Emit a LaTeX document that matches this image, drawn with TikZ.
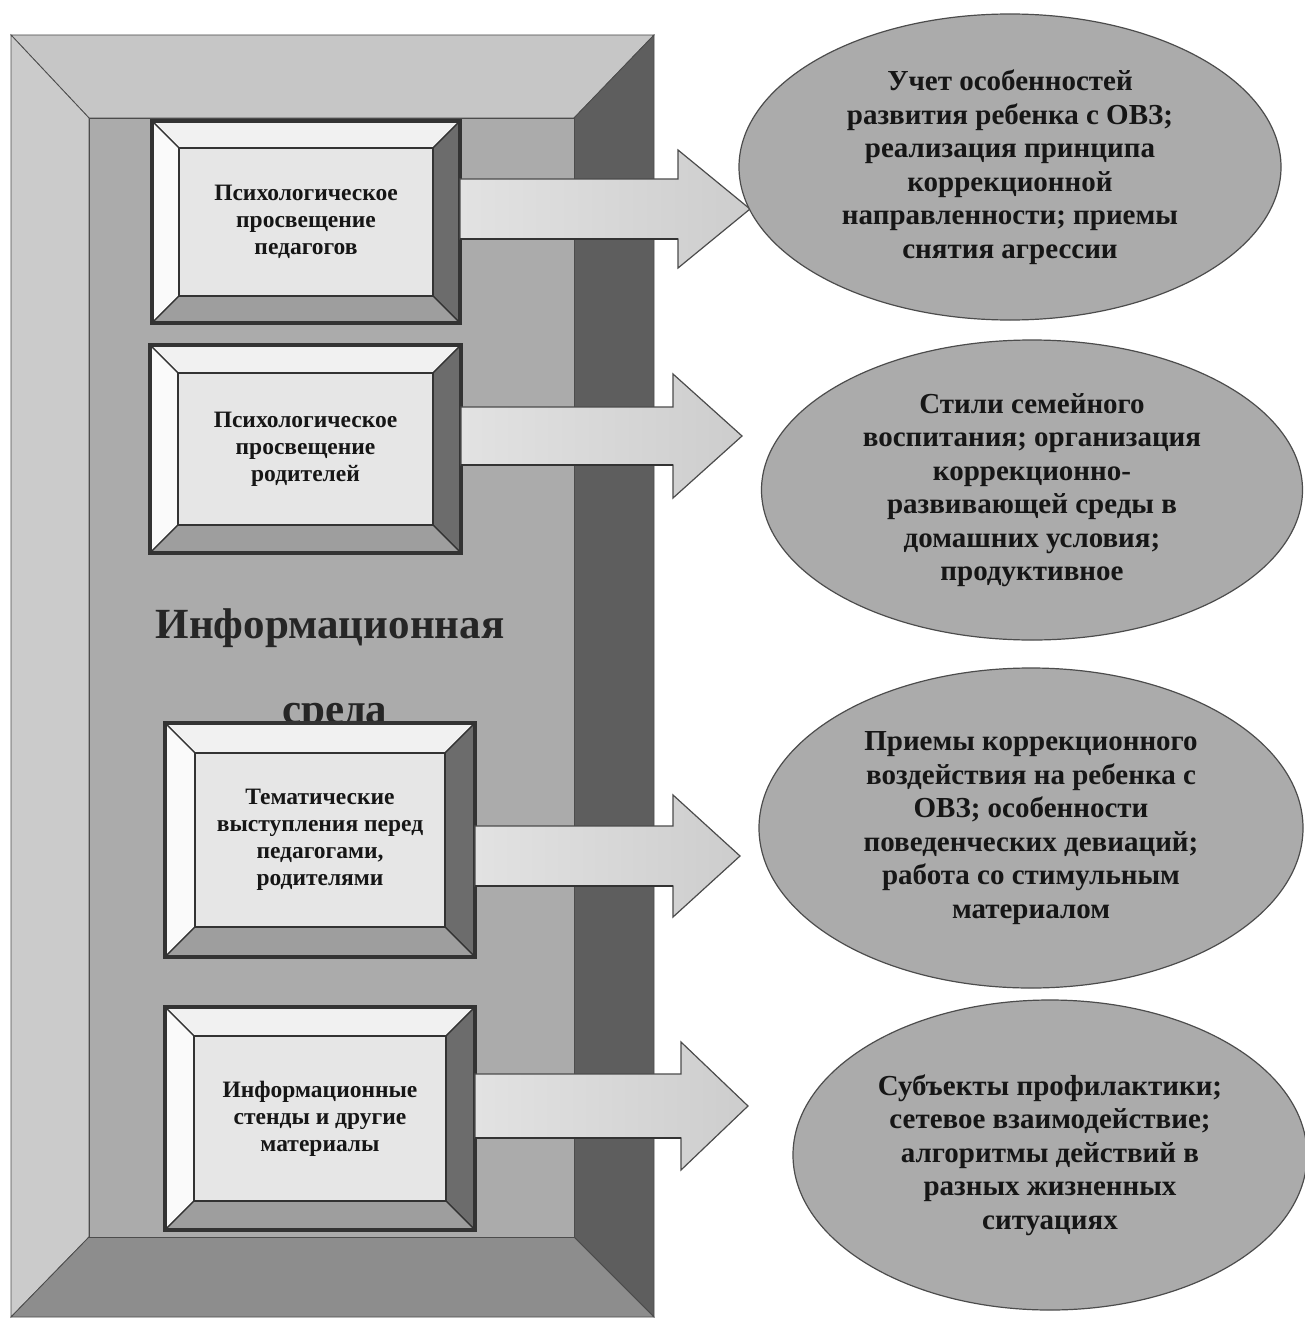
\documentclass[tikz,border=0pt]{standalone}
\usepackage{fontspec}
\setmainfont{Liberation Serif}
\usetikzlibrary{shapes.geometric,calc}
\definecolor{frtop}{HTML}{C6C6C6}
\definecolor{frleft}{HTML}{CBCBCB}
\definecolor{frright}{HTML}{5E5E5E}
\definecolor{frbottom}{HTML}{8D8D8D}
\definecolor{frpanel}{HTML}{ABABAB}
\definecolor{bvtop}{HTML}{F1F1F1}
\definecolor{bvleft}{HTML}{FAFAFA}
\definecolor{bvright}{HTML}{6C6C6C}
\definecolor{bvbottom}{HTML}{9E9E9E}
\definecolor{facec}{HTML}{E6E6E6}
\definecolor{ovalc}{HTML}{ABABAB}
\definecolor{arrl}{HTML}{E2E2E2}
\definecolor{arrr}{HTML}{CDCDCD}
\definecolor{inkc}{HTML}{161616}
\tikzset{
  frameedge/.style={draw=black!70, line width=0.8pt},
  bvline/.style={draw=black!80, line width=1.2pt},
  facebox/.style={rectangle, draw=black!80, line width=2pt, fill=facec, inner sep=0pt, outer sep=0pt,
    align=center, font=\bfseries\fontsize{23.5}{27}\selectfont, text=inkc},
  outerbox/.style={rectangle, draw=black!80, line width=3.5pt, inner sep=0pt, outer sep=0pt},
  oval/.style={ellipse, draw=black!70, line width=1.2pt, fill=ovalc, inner sep=0pt,
    align=center, font=\bfseries\fontsize{29}{33.5}\selectfont, text=inkc},
  arrowst/.style={draw=black!70, line width=1.2pt, left color=arrl, right color=arrr, line join=miter},
  shadowline/.style={draw=black!80, line width=2.6pt},
  titletext/.style={font=\bfseries\fontsize{43}{50}\selectfont, text=black!85, inner sep=0pt, anchor=base},
}
\newcommand\bevelbox[7]{%
  \filldraw[bvline, fill=bvtop] (#2,#3) -- (#4,#3) -- ({#4-#6},{#3+#6}) -- ({#2+#6},{#3+#6}) -- cycle;
  \filldraw[bvline, fill=bvleft] (#2,#3) -- ({#2+#6},{#3+#6}) -- ({#2+#6},{#5-#6}) -- (#2,#5) -- cycle;
  \filldraw[bvline, fill=bvright] (#4,#3) -- (#4,#5) -- ({#4-#6},{#5-#6}) -- ({#4-#6},{#3+#6}) -- cycle;
  \filldraw[bvline, fill=bvbottom] (#2,#5) -- ({#2+#6},{#5-#6}) -- ({#4-#6},{#5-#6}) -- (#4,#5) -- cycle;
  \node[facebox, minimum width={#4-#2-2*#6}, minimum height={#5-#3-2*#6}] (#1) at ({(#2+#4)/2},{(#3+#5)/2}) {#7};
  \node[outerbox, minimum width={#4-#2}, minimum height={#5-#3}] (#1o) at ({(#2+#4)/2},{(#3+#5)/2}) {};
}
\newcommand\blockarrow[5]{%
  \filldraw[arrowst] ($(#1.east |- #2)+(0,-#3)$) -- ($(#2)+(-#4,-#3)$) -- ($(#2)+(-#4,-#5)$) -- (#2)
    -- ($(#2)+(-#4,#5)$) -- ($(#2)+(-#4,#3)$) -- ($(#1.east |- #2)+(0,#3)$) -- cycle;
  \draw[shadowline] ($(#1.east |- #2)+(0,#3)$) -- ($(#2)+(-#4,#3)$);
}
\begin{document}
\begin{tikzpicture}[x=1pt,y=-1pt]
\useasboundingbox (0,0) rectangle (1305,1319);
\fill[white] (0,0) rectangle (1305,1319);
% big bevelled frame
\filldraw[frameedge, fill=frtop] (11,35) -- (654,35) -- (574,118) -- (89,118) -- cycle;
\filldraw[frameedge, fill=frleft] (11,35) -- (89,118) -- (89,1237) -- (11,1317) -- cycle;
\filldraw[frameedge, fill=frright] (654,35) -- (654,1317) -- (574,1237) -- (574,118) -- cycle;
\filldraw[frameedge, fill=frbottom] (11,1317) -- (89,1237) -- (574,1237) -- (654,1317) -- cycle;
\filldraw[frameedge, fill=frpanel] (89,118) rectangle (574,1237);
% title
\node[titletext] (title1) at (330,638) {Информационная};
\node[titletext] (title2) at (335,723) {среда};
% boxes
\bevelbox{b1}{152}{121}{460}{323}{27}{Психологическое\\просвещение\\педагогов}
\bevelbox{b2}{150}{345}{461}{553}{28}{Психологическое\\просвещение\\родителей}
\bevelbox{b3}{165}{723}{475}{957}{30}{Тематические\\выступления перед\\педагогами,\\родителями}
\bevelbox{b4}{165}{1007}{475}{1230}{29}{Информационные\\стенды и другие\\материалы}
% arrow tips
\coordinate (t1) at (750,209);
\coordinate (t2) at (742,436);
\coordinate (t3) at (740,856);
\coordinate (t4) at (748,1106);
\blockarrow{b1o}{t1}{30}{72}{59}
\blockarrow{b2o}{t2}{29}{69}{62}
\blockarrow{b3o}{t3}{30}{67}{61}
\blockarrow{b4o}{t4}{32}{67}{64}
% ellipses
\node[oval, minimum width=542, minimum height=306] (e1) at (1010,167)
  {Учет особенностей\\развития ребенка с ОВЗ;\\реализация принципа\\коррекционной\\направленности; приемы\\снятия агрессии};
\node[oval, minimum width=541, minimum height=300] (e2) at (1032,490)
  {Стили семейного\\воспитания; организация\\коррекционно-\\развивающей среды в\\домашних условия;\\продуктивное};
\node[oval, minimum width=544, minimum height=320] (e3) at (1031,828)
  {Приемы коррекционного\\воздействия на ребенка с\\ОВЗ; особенности\\поведенческих девиаций;\\работа со стимульным\\материалом};
\node[oval, minimum width=514, minimum height=310] (e4) at (1050,1155)
  {Субъекты профилактики;\\сетевое взаимодействие;\\алгоритмы действий в\\разных жизненных\\ситуациях};
\end{tikzpicture}
\end{document}
